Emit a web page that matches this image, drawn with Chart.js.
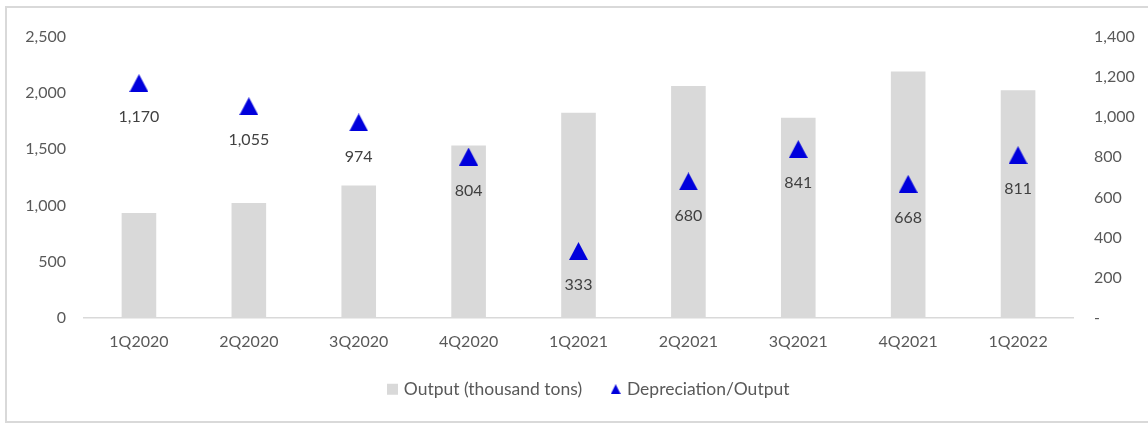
<!DOCTYPE html>
<html>
<head>
<meta charset="utf-8">
<script src="https://cdn.jsdelivr.net/npm/chart.js@4/dist/chart.umd.min.js"></script>
<style>
  html, body { margin: 0; padding: 0; background: #fff; }
  body { width: 1148px; height: 426px; position: relative; overflow: hidden; }
  #frame { position: absolute; left: 5px; top: 6px; width: 1160px; height: 417px;
           border: 2px solid #d9d9d9; box-sizing: border-box; }
  #wrap { position: absolute; left: 0; top: 0; width: 1148px; height: 426px; }
</style>
</head>
<body>
<div id="frame"></div>
<div id="wrap"><canvas id="c" width="1148" height="426"></canvas></div>
<script>
const quarters = ['1Q2020', '2Q2020', '3Q2020', '4Q2020', '1Q2021', '2Q2021', '3Q2021', '4Q2021', '1Q2022'];
const outputTons = [932, 1021, 1178, 1535, 1826, 2064, 1781, 2192, 2027];
const deprPerOutput = [1170, 1055, 974, 804, 333, 680, 841, 668, 811];
const leftTicks = [0, 500, 1000, 1500, 2000, 2500];
const rightTicks = [0, 200, 400, 600, 800, 1000, 1200, 1400];

const FONT = 'Lato, "Open Sans", sans-serif';
const TEXT = '#595959';
const BLUE = '#0000dc';
const GREY = '#d9d9d9';

// Triangle marker whose bounding box is centred on the point
function triangleMarker(w, h) {
  const cv = document.createElement('canvas');
  cv.width = w; cv.height = h;
  const g = cv.getContext('2d');
  g.fillStyle = BLUE;
  g.beginPath();
  g.moveTo(w / 2, 0);
  g.lineTo(w, h);
  g.lineTo(0, h);
  g.closePath();
  g.fill();
  return cv;
}
const bigTri = triangleMarker(19, 18);
const smallTri = triangleMarker(10, 10);
const fmt = v => v.toLocaleString('en-US');

// Value labels under each triangle
const valueLabels = {
  id: 'valueLabels',
  afterDatasetsDraw(chart) {
    const meta = chart.getDatasetMeta(1);
    const ctx = chart.ctx;
    ctx.save();
    ctx.font = '16px ' + FONT;
    ctx.fillStyle = '#404040';
    ctx.textAlign = 'center';
    ctx.textBaseline = 'middle';
    meta.data.forEach((pt, i) => {
      ctx.fillText(fmt(deprPerOutput[i]), pt.x, pt.y + 34);
    });
    ctx.restore();
  }
};

// Nudge the legend row a little to the right of the canvas centre
const legendShift = {
  id: 'legendShift',
  afterLayout(chart) {
    if (chart.legend) chart.legend.left += 31.5;
  }
};

new Chart(document.getElementById('c'), {
  data: {
    labels: quarters,
    datasets: [
      {
        type: 'bar',
        label: 'Output (thousand tons)',
        data: outputTons,
        backgroundColor: GREY,
        barPercentage: 0.315,
        categoryPercentage: 1,
        yAxisID: 'y',
        order: 2
      },
      {
        type: 'line',
        label: 'Depreciation/Output',
        data: deprPerOutput,
        showLine: false,
        pointStyle: bigTri,
        backgroundColor: BLUE,
        borderColor: BLUE,
        yAxisID: 'y1',
        order: 1
      }
    ]
  },
  options: {
    responsive: false,
    animation: false,
    layout: { padding: { top: 37, bottom: 18, left: 0, right: 0 } },
    plugins: {
      tooltip: { enabled: false },
      legend: {
        position: 'bottom',
        labels: {
          usePointStyle: true,
          font: { size: 17.5, family: FONT },
          color: TEXT,
          padding: 31,
          generateLabels(chart) {
            return [
              { text: 'Output (thousand tons)', fillStyle: GREY, strokeStyle: GREY, lineWidth: 0,
                pointStyle: 'rect', datasetIndex: 0, fontColor: TEXT },
              { text: 'Depreciation/Output', fillStyle: BLUE, strokeStyle: BLUE, lineWidth: 0,
                pointStyle: smallTri, datasetIndex: 1, fontColor: TEXT }
            ];
          },
          boxWidth: 5,
          boxHeight: 11
        }
      }
    },
    scales: {
      x: {
        grid: { display: false, drawTicks: false },
        border: { display: true, color: GREY, width: 1.5 },
        ticks: { font: { size: 16, family: FONT }, color: TEXT, padding: 14, maxRotation: 0 },
        afterFit(s) { s.height = 31.7; }
      },
      y: {
        position: 'left',
        min: 0, max: 2500,
        afterBuildTicks(s) { s.ticks = leftTicks.map(v => ({ value: v })); },
        grid: { display: false, drawTicks: false },
        border: { display: false },
        ticks: { font: { size: 16, family: FONT }, color: TEXT, padding: 18, callback: v => fmt(v) },
        afterFit(s) { s.width = 84; }
      },
      y1: {
        position: 'right',
        min: 0, max: 1400,
        afterBuildTicks(s) { s.ticks = rightTicks.map(v => ({ value: v })); },
        grid: { display: false, drawTicks: false },
        border: { display: false },
        ticks: { font: { size: 16, family: FONT }, color: TEXT, padding: 21,
                 callback: v => v === 0 ? '-' : fmt(v) },
        afterFit(s) { s.width = 75; }
      }
    }
  },
  plugins: [valueLabels, legendShift]
});
</script>
</body>
</html>
